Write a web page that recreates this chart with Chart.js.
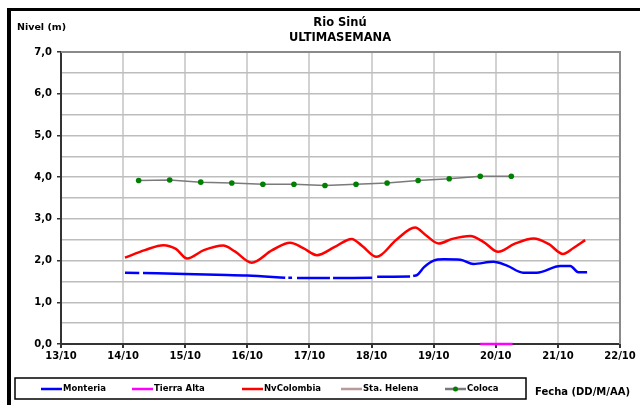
<!DOCTYPE html>
<html><head><meta charset="utf-8">
<script src="https://cdn.jsdelivr.net/npm/chart.js@4/dist/chart.umd.min.js"></script>
<style>html,body{margin:0;padding:0;background:#fff;}canvas{display:block;}</style>
</head><body>
<canvas id="c" width="640" height="405"></canvas>
<script>
// ---- data ----
const xTickLabels = ['13/10','14/10','15/10','16/10','17/10','18/10','19/10','20/10','21/10','22/10'];
const yTickLabels = ['0,0','1,0','2,0','3,0','4,0','5,0','6,0','7,0'];
const seriesNames = ['Monteria','Tierra Alta','NvColombia','Sta. Helena','Coloca'];

const monteriaDays = [14.03,14.26,14.29,14.32,15.0,15.5,16.0,16.61,16.635,16.66,16.72,16.76,16.80,17.33,17.355,17.38,18.01,18.05,18.09,18.62,18.645,18.67,18.73,18.85,19.0,19.16,19.43,19.64,19.96,20.18,20.44,20.66,21.04,21.2,21.33,21.47];
const monteriaVals = [1.71,1.70,null,1.70,1.68,1.66,1.64,1.59,null,1.59,1.59,null,1.58,1.58,null,1.58,1.59,null,1.61,1.62,null,1.63,1.65,1.85,2.00,2.03,2.02,1.92,1.97,1.88,1.71,1.71,1.87,1.87,1.72,1.72];

const tierraDays = [19.75,20.27];
const tierraVals = [0,0];

const nvcolDays = [14.03,14.35,14.65,14.85,15.03,15.3,15.61,15.8,16.07,16.4,16.69,16.9,17.12,17.4,17.68,17.85,18.08,18.4,18.70,18.88,19.08,19.3,19.59,19.8,20.04,20.3,20.61,20.85,21.08,21.25,21.44];
const nvcolVals = [2.07,2.25,2.37,2.28,2.05,2.25,2.36,2.22,1.95,2.25,2.43,2.30,2.13,2.32,2.52,2.35,2.09,2.50,2.79,2.60,2.41,2.52,2.59,2.45,2.21,2.40,2.53,2.40,2.16,2.30,2.49];

const helenaDays = [];
const helenaVals = [];

const colocaDays = [14.25,14.75,15.25,15.75,16.25,16.75,17.25,17.75,18.25,18.75,19.25,19.75,20.25];
const colocaVals = [3.92,3.93,3.88,3.86,3.83,3.83,3.80,3.83,3.86,3.92,3.96,4.02,4.02];

const pts = (xs, ys) => xs.map((x, i) => ({x: x, y: ys[i]}));
const FONT = '"DejaVu Sans", sans-serif';

const decor = {
  id: 'decor',
  afterDraw(chart) {
    const ctx = chart.ctx, a = chart.chartArea;
    ctx.save();
    // frame
    ctx.fillStyle = '#000';
    ctx.fillRect(7, 8, 4, 397);
    ctx.fillRect(7, 8, 633, 3);
    // plot top/right border
    ctx.strokeStyle = '#8a8a8a'; ctx.lineWidth = 2;
    ctx.beginPath();
    ctx.moveTo(a.left, a.top); ctx.lineTo(a.right, a.top); ctx.lineTo(a.right, a.bottom);
    ctx.stroke();
    // titles
    ctx.fillStyle = '#000';
    ctx.textBaseline = 'middle';
    ctx.font = 'bold 11.5px ' + FONT;
    ctx.textAlign = 'center';
    ctx.fillText('Rio Sinú', 340, 23);
    ctx.fillText('ULTIMASEMANA', 340, 38);
    ctx.textAlign = 'left';
    ctx.font = 'bold 9.5px ' + FONT;
    ctx.fillText('Nivel (m)', 17, 28);
    // legend box
    ctx.strokeStyle = '#000'; ctx.lineWidth = 1.5;
    ctx.strokeRect(15, 378, 511, 21);
    const lx = [41, 132, 242, 341, 445];
    ctx.font = 'bold 8.5px ' + FONT;
    chart.data.datasets.forEach((ds, i) => {
      const y = 389;
      ctx.strokeStyle = ds.borderColor; ctx.lineWidth = 2.5;
      ctx.beginPath(); ctx.moveTo(lx[i], y); ctx.lineTo(lx[i] + 21, y); ctx.stroke();
      if (ds.pointRadius > 0) {
        ctx.fillStyle = ds.pointBackgroundColor;
        ctx.beginPath(); ctx.arc(lx[i] + 10.5, y, 2.5, 0, Math.PI * 2); ctx.fill();
      }
      ctx.fillStyle = '#000';
      ctx.textAlign = 'left';
      ctx.fillText(ds.label, lx[i] + 22, y);
    });
    ctx.font = 'bold 10px ' + FONT;
    ctx.fillText('Fecha (DD/M/AA)', 535, 392);
    ctx.restore();
  }
};

new Chart(document.getElementById('c'), {
  type: 'line',
  data: {
    datasets: [
      {label: seriesNames[0], data: pts(monteriaDays, monteriaVals), borderColor: '#0000ff', borderWidth: 2.5, pointRadius: 0, spanGaps: false, cubicInterpolationMode: 'monotone'},
      {label: seriesNames[1], data: pts(tierraDays, tierraVals), borderColor: '#ff00ff', borderWidth: 2.5, pointRadius: 0, clip: 6},
      {label: seriesNames[2], data: pts(nvcolDays, nvcolVals), borderColor: '#ff0000', borderWidth: 2.5, pointRadius: 0, cubicInterpolationMode: 'monotone'},
      {label: seriesNames[3], data: pts(helenaDays, helenaVals), borderColor: '#b89a9a', borderWidth: 2.5, pointRadius: 0},
      {label: seriesNames[4], data: pts(colocaDays, colocaVals), borderColor: '#7a7a7a', borderWidth: 1.5, pointRadius: 2.8, pointBackgroundColor: '#008000', pointBorderColor: '#008000', pointBorderWidth: 0}
    ]
  },
  options: {
    responsive: false,
    animation: false,
    layout: {padding: {left: 11, right: 20, top: 52, bottom: 41}},
    plugins: {legend: {display: false}, title: {display: false}, tooltip: {enabled: false}},
    scales: {
      x: {
        type: 'linear', min: 13, max: 22,
        afterFit(s) { s.height = 20; },
        ticks: {stepSize: 1, autoSkip: false, maxRotation: 0, padding: 2, color: '#000',
          font: {family: FONT, weight: 'bold', size: 10},
          callback: (v) => xTickLabels[Math.round(v - 13)]},
        grid: {color: '#d2d2d2', lineWidth: 2, tickLength: 4, tickColor: '#333'},
        border: {display: true, color: '#333', width: 2}
      },
      y: {
        min: 0, max: 7,
        afterFit(s) { s.width = 50; },
        ticks: {stepSize: 0.5, autoSkip: false, padding: 5, color: '#000',
          font: {family: FONT, weight: 'bold', size: 10},
          callback: (v) => Number.isInteger(v) ? yTickLabels[v] : ''},
        grid: {color: '#bdbdbd', lineWidth: 1.5, tickLength: 4,
          tickColor: (c) => (c.tick && Number.isInteger(c.tick.value)) ? '#333' : 'rgba(0,0,0,0)'},
        border: {display: true, color: '#333', width: 2}
      }
    }
  },
  plugins: [decor]
});
</script>
</body></html>
